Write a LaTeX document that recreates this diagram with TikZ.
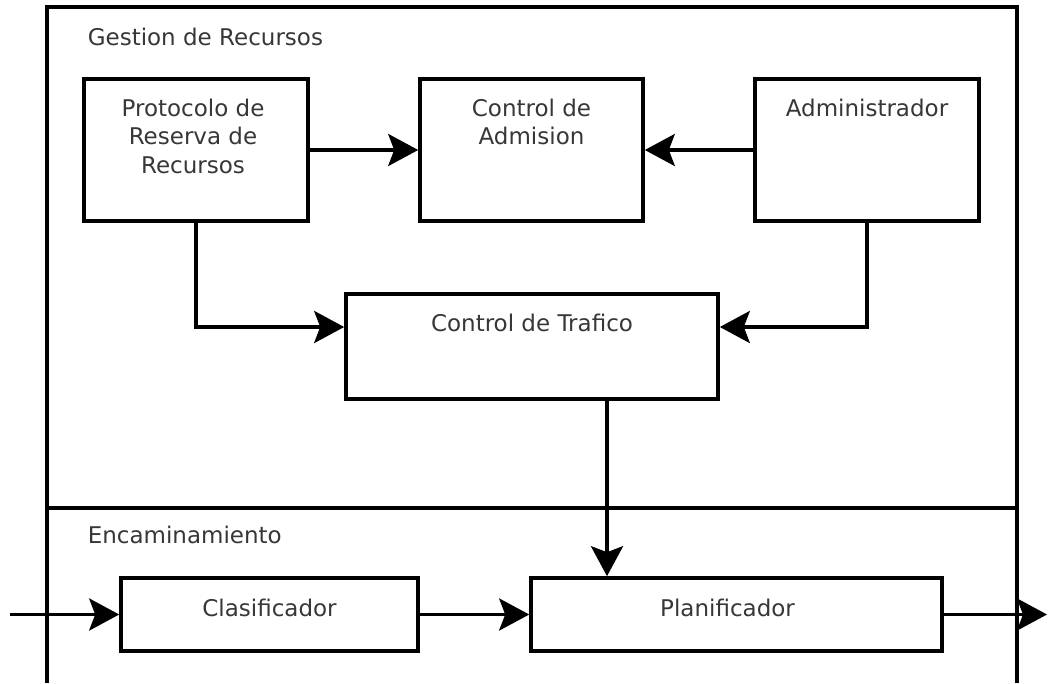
\documentclass[tikz,border=0pt]{standalone}
\usepackage{fontspec}
\setmainfont{DejaVu Sans}
\usetikzlibrary{arrows.meta}
\definecolor{txt}{RGB}{55,55,55}
\begin{document}
\begin{tikzpicture}[x=1pt,y=-1pt,line width=3.6pt,line join=miter,
  font=\fontsize{23}{28.5}\selectfont,
  box/.style={draw,rectangle,inner sep=0pt,line width=3.6pt},
  lbl/.style={text=txt,inner sep=0pt,align=center},
  arr/.style={-{Stealth[length=30pt,width=32pt,inset=6pt]}}]
\useasboundingbox (0,0) rectangle (1048,683);
% outer frame
\coordinate (fTL) at (47,7);
\coordinate (fTR) at (1017,7);
\coordinate (fBL) at (47,683);
\coordinate (fBR) at (1017,683);
\draw (fBL) -- (fTL) -- (fTR) -- (fBR);
\draw (47,508) -- (1017,508);
\node[lbl,anchor=west] (gtitle) at (86,37) {Gestion de Recursos};
\node[lbl,anchor=west] (etitle) at (86,535) {Encaminamiento};
% boxes
\node[box,minimum width=224pt,minimum height=142pt] (proto) at (196,150) {};
\node[box,minimum width=223pt,minimum height=142pt] (adm) at (531.5,150) {};
\node[box,minimum width=224pt,minimum height=142pt] (admin) at (867,150) {};
\node[box,minimum width=372pt,minimum height=105pt] (traf) at (532,346.5) {};
\node[box,minimum width=297pt,minimum height=73pt] (clas) at (269.5,614.5) {};
\node[box,minimum width=411pt,minimum height=73pt] (plan) at (736.5,614.5) {};
% box texts
\node[lbl,anchor=north] (protoT) at ([xshift=-3pt,yshift=-20pt]proto.north) {Protocolo de\\Reserva de\\Recursos};
\node[lbl,anchor=north] (admT) at ([yshift=-20pt]adm.north) {Control de\\Admision};
\node[lbl,anchor=north] (adminT) at ([yshift=-20pt]admin.north) {Administrador};
\node[lbl,anchor=north] (trafT) at ([yshift=-20pt]traf.north) {Control de Trafico};
\node[lbl,anchor=north] (clasT) at ([yshift=-21pt]clas.north) {Clasificador};
\node[lbl,anchor=north] (planT) at ([xshift=-9pt,yshift=-21pt]plan.north) {Planificador};
% connectors
\coordinate (inS) at (10,614.5);
\coordinate (outE) at (1047,614.5);
\draw[arr] (proto.east) -- (adm.west);
\draw[arr] (admin.west) -- (adm.east);
\draw[arr] (proto.south) |- ([yshift=19.5pt]traf.west);
\draw[arr] (admin.south) |- ([yshift=19.5pt]traf.east);
\draw[arr] ([xshift=75pt]traf.south) -- ([xshift=75pt]traf.south |- plan.north);
\draw[arr] (inS) -- (clas.west);
\draw[arr] (clas.east) -- (plan.west);
\draw[arr] (plan.east) -- (outE);
\end{tikzpicture}
\end{document}
